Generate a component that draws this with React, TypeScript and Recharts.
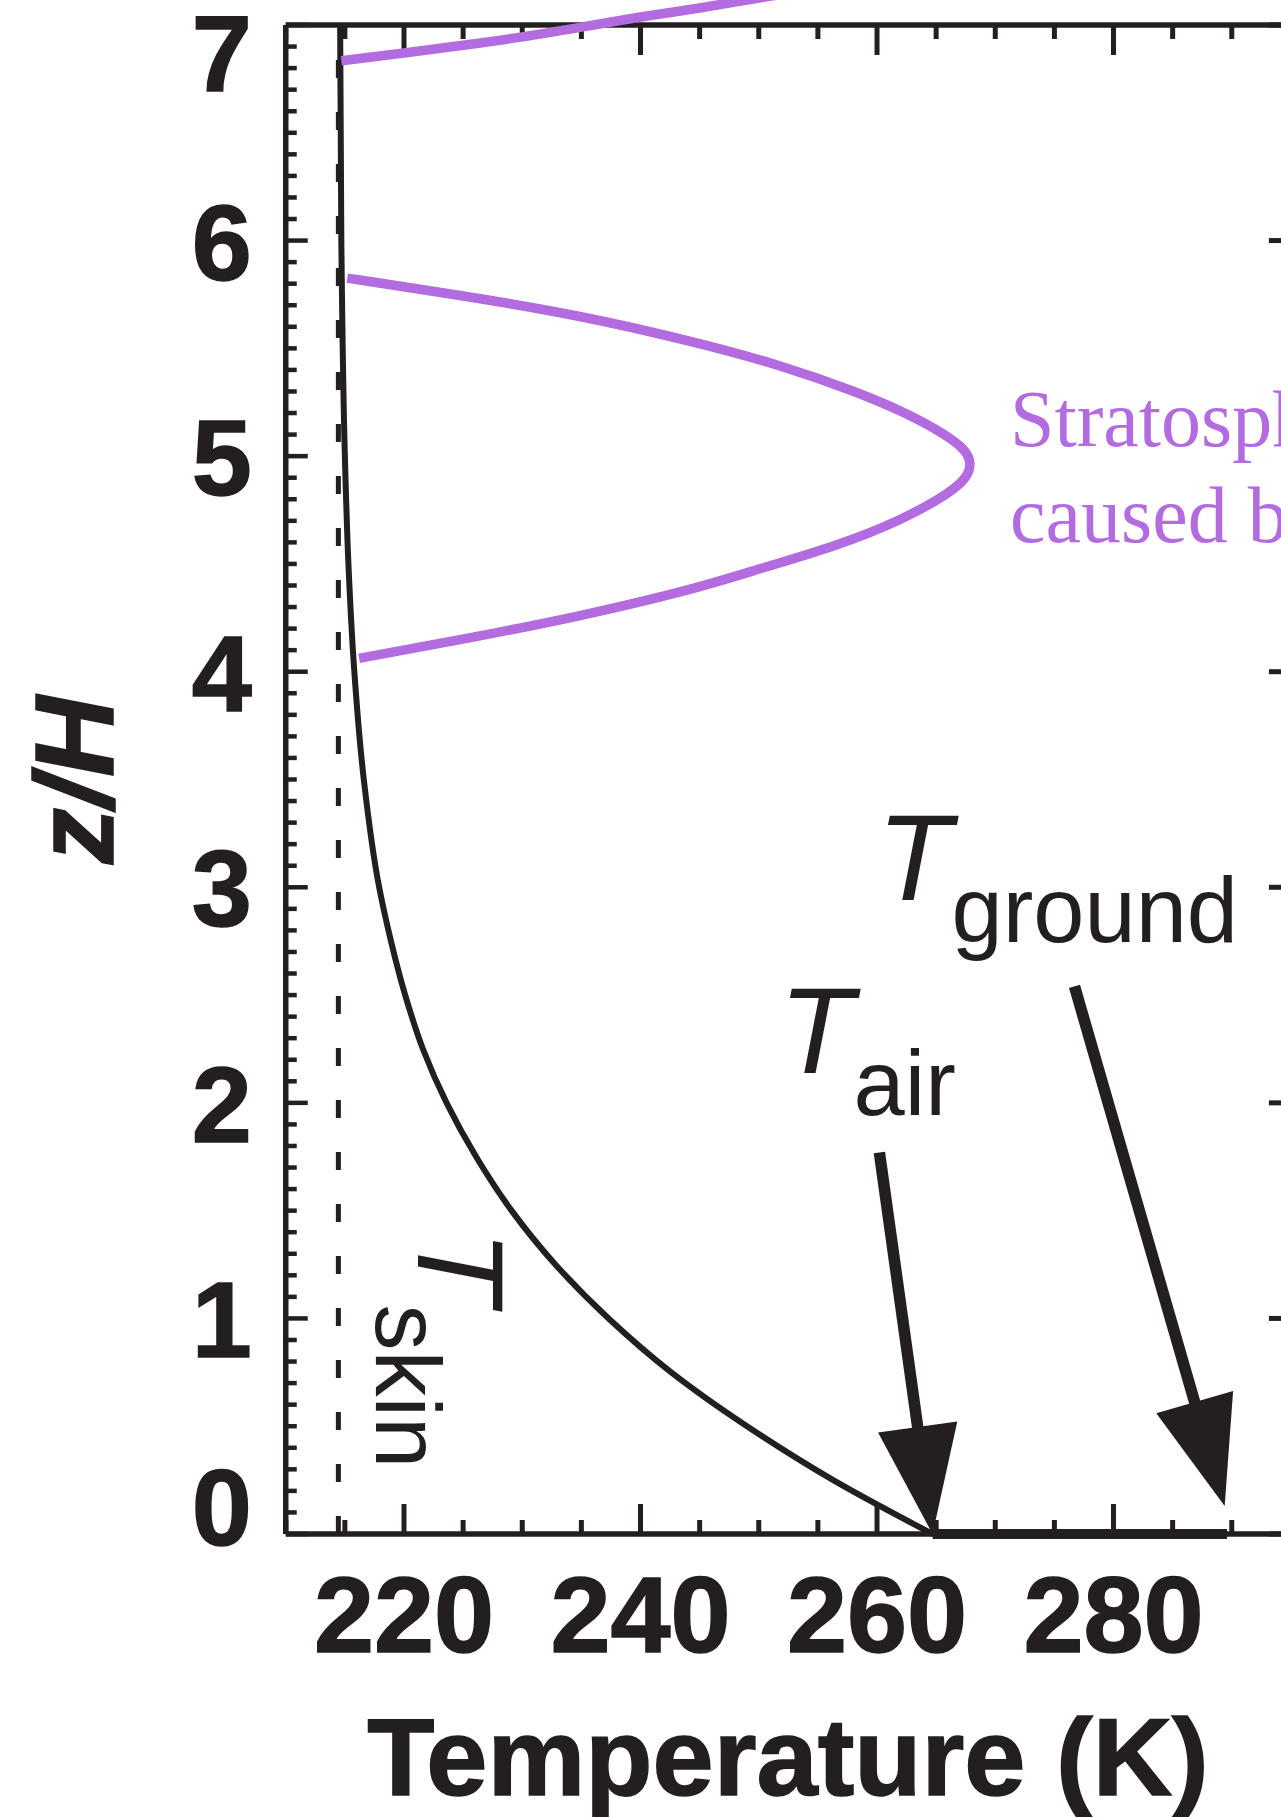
import React from 'react';
import { LineChart, Line, XAxis, YAxis, ReferenceLine } from 'recharts';

const INK = '#231f20';
const PURPLE = '#b36be0';
const SANS = '"Liberation Sans", Arial, Helvetica, sans-serif';
const SERIF = '"Liberation Serif", "Times New Roman", serif';

const W = 1400;
const H = 1817;
// plot area: x 285.75..1290.9, y 25..1534 (axes take 1px each)
const MARGIN = { top: 24, left: 284.75, right: W - 1290.9 - 1, bottom: H - 1534 - 1 };

// axes
const tempDomain: [number, number] = [210, 295];
const zDomain: [number, number] = [0, 7];
const tempLabels = [220, 240, 260, 280];
const zLabels = [0, 1, 2, 3, 4, 5, 6, 7];
const rightTicks = [0, 1, 2, 3, 4, 6, 7];
const tempTicks = Array.from({ length: 18 }, (_, i) => 210 + 5 * i);
const zTicks = Array.from({ length: 71 }, (_, i) => i / 10);

// radiative-equilibrium temperature profile (black), listed from the top down
const profileZ = [7.0, 6.0, 5.0, 4.5, 4.0, 3.5, 3.0, 2.75, 2.5, 2.25, 2.0, 1.75, 1.5, 1.25, 1.0, 0.75, 0.5, 0.25, 0];
const profileT = [214.6, 214.7, 215.0, 215.3, 215.8, 216.6, 217.9, 218.9, 220.1, 221.6, 223.6, 226.1, 229.1, 232.8, 237.3, 242.6, 249.0, 256.3, 264.7];

// skin temperature (dotted)
const skinZ = [0, 7];
const skinT = [214.45, 214.45];

// stratospheric heating bulge (purple), top to bottom
const bulgeZ = [5.826, 5.745, 5.653, 5.53, 5.42, 5.3, 5.2, 5.1, 5.03, 4.965, 4.9, 4.83, 4.7, 4.58, 4.48, 4.385, 4.257, 4.15, 4.062];
const bulgeT = [215.2, 225.0, 234.9, 244.6, 252.0, 258.2, 262.5, 265.8, 267.5, 268.0, 267.6, 266.2, 262.0, 256.4, 250.2, 244.7, 234.9, 225.0, 216.2];

// second bulge leaving the top of the frame
const upperT = [214.7, 220.0, 225.0, 230.0, 235.0, 240.0, 245.0, 249.0, 253.0];
const upperZ = [6.834, 6.87, 6.906, 6.945, 6.99, 7.037, 7.079, 7.116, 7.152];

// surface values
const tAir = 264.7;
const tGround = 289.6;
const airArrow = { fromT: 260.2, fromZ: 1.77, toT: 264.7, toZ: 0 };
const groundArrow = { fromT: 276.7, fromZ: 2.54, toT: 289.4, toZ: 0.13 };

const zip = (ts: number[], zs: number[]) => ts.map((T, i) => ({ T, z: zs[i] }));
const profileData = zip(profileT, profileZ);
const skinData = zip(skinT, skinZ);
const bulgeData = zip(bulgeT, bulgeZ);
const upperData = zip(upperT, upperZ);

const heavy = { fontFamily: SANS, fontWeight: 'bold' as const, fill: INK, stroke: INK, strokeWidth: 1.5 };

const BottomTick = (props: any) => {
  const { x, y, payload } = props;
  const v = payload.value;
  const major = tempLabels.includes(v);
  return (
    <g>
      <line x1={x} x2={x} y1={y} y2={y - (major ? 30 : 14)} stroke={INK} strokeWidth={5} />
      {major && (
        <text x={x} y={y + 118} textAnchor="middle" fontSize={108} {...heavy}>
          {v}
        </text>
      )}
    </g>
  );
};

const TopTick = (props: any) => {
  const { x, y, payload } = props;
  const major = tempLabels.includes(payload.value);
  return <line x1={x} x2={x} y1={y} y2={y + (major ? 30 : 14)} stroke={INK} strokeWidth={5} />;
};

const LeftTick = (props: any) => {
  const { x, y, payload } = props;
  const v = payload.value;
  const major = Math.abs(v - Math.round(v)) < 1e-6;
  const shift = v === 0 ? -28 : v === 7 ? 27 : 0;
  return (
    <g>
      <line x1={x} x2={x + (major ? 22 : 11)} y1={y} y2={y} stroke={INK} strokeWidth={4.5} />
      {major && zLabels.includes(Math.round(v)) && (
        <text x={x - 34} y={y + 39 + shift} textAnchor="end" fontSize={108} {...heavy}>
          {Math.round(v)}
        </text>
      )}
    </g>
  );
};

const RightTick = (props: any) => {
  const { x, y } = props;
  return <line x1={x} x2={x - 22} y1={y} y2={y} stroke={INK} strokeWidth={5} />;
};

const Arrow = (props: any) => {
  const { x1, y1, x2, y2 } = props;
  const dx = x2 - x1;
  const dy = y2 - y1;
  const len = Math.sqrt(dx * dx + dy * dy);
  const ux = dx / len;
  const uy = dy / len;
  const headLen = 108;
  const half = 40;
  const bx = x2 - ux * headLen;
  const by = y2 - uy * headLen;
  const pts = `${x2},${y2} ${bx - uy * half},${by + ux * half} ${bx + uy * half},${by - ux * half}`;
  return (
    <g>
      <line x1={x1} y1={y1} x2={bx + ux * 4} y2={by + uy * 4} stroke={INK} strokeWidth={11.5} />
      <polygon points={pts} fill={INK} />
    </g>
  );
};

const axisLine = { stroke: INK, strokeWidth: 5.5 };

export default function App() {
  return (
    <div style={{ position: 'absolute', left: 0, top: 0, width: 1281, height: 1817, overflow: 'hidden', background: '#fff' }}>
      <div style={{ position: 'absolute', left: 0, top: 0 }}>
        <LineChart width={W} height={H} margin={MARGIN}>
          <XAxis xAxisId="b" type="number" dataKey="T" domain={tempDomain} ticks={tempTicks} interval={0}
            height={1} tickSize={0} tickMargin={0} tickLine={false} axisLine={axisLine} tick={BottomTick} />
          <XAxis xAxisId="t" orientation="top" type="number" dataKey="T" domain={tempDomain} ticks={tempTicks} interval={0}
            height={1} tickSize={0} tickMargin={0} tickLine={false} axisLine={axisLine} tick={TopTick} allowDataOverflow />
          <YAxis yAxisId="l" type="number" dataKey="z" domain={zDomain} ticks={zTicks} interval={0}
            width={1} tickSize={0} tickMargin={0} tickLine={false} axisLine={axisLine} tick={LeftTick} />
          <YAxis yAxisId="r" orientation="right" type="number" domain={zDomain} ticks={rightTicks} interval={0}
            width={1} tickSize={0} tickMargin={0} tickLine={false} axisLine={axisLine} tick={RightTick} allowDataOverflow />

          <Line xAxisId="b" yAxisId="l" data={skinData} dataKey="z" stroke={INK} strokeWidth={5}
            strokeDasharray="18 34" dot={false} activeDot={false} isAnimationActive={false} />
          <Line xAxisId="b" yAxisId="l" data={profileData} dataKey="z" type="monotoneY" stroke={INK} strokeWidth={6}
            dot={false} activeDot={false} isAnimationActive={false} />
          <Line xAxisId="b" yAxisId="l" data={bulgeData} dataKey="z" type="basis" stroke={PURPLE} strokeWidth={9.5}
            dot={false} activeDot={false} isAnimationActive={false} />

          <ReferenceLine xAxisId="b" yAxisId="l" segment={[{ x: tAir, y: 0 }, { x: tGround, y: 0 }]}
            stroke={INK} strokeWidth={10} ifOverflow="visible" />
          <ReferenceLine xAxisId="b" yAxisId="l"
            segment={[{ x: airArrow.fromT, y: airArrow.fromZ }, { x: airArrow.toT, y: airArrow.toZ }]}
            ifOverflow="visible" shape={Arrow} />
          <ReferenceLine xAxisId="b" yAxisId="l"
            segment={[{ x: groundArrow.fromT, y: groundArrow.fromZ }, { x: groundArrow.toT, y: groundArrow.toZ }]}
            ifOverflow="visible" shape={Arrow} />
        </LineChart>
      </div>

      {/* same scales, plot area stretched to the page top so the upper curve can leave the frame */}
      <div style={{ position: 'absolute', left: 0, top: 0, pointerEvents: 'none' }}>
        <LineChart width={W} height={H} margin={{ top: 0, left: 285.75, right: W - 1290.9, bottom: H - 1534 }}>
          <XAxis xAxisId="b" type="number" dataKey="T" domain={tempDomain} hide allowDataOverflow />
          <YAxis yAxisId="l" type="number" dataKey="z" domain={[0, 1534 / ((1534 - 25) / 7)]} hide allowDataOverflow />
          <Line xAxisId="b" yAxisId="l" data={upperData} dataKey="z" type="monotoneX" stroke={PURPLE} strokeWidth={9.5}
            dot={false} activeDot={false} isAnimationActive={false} />
        </LineChart>
      </div>

      <svg width={1281} height={1817} style={{ position: 'absolute', left: 0, top: 0, pointerEvents: 'none' }}>
        <text transform="translate(113, 780) rotate(-90)" textAnchor="middle" fontStyle="italic" fontSize={112} {...heavy}>
          z/H
        </text>
        <text x={788} y={1795} textAnchor="middle" fontSize={110} {...heavy}>
          Temperature (K)
        </text>

        <text x={877} y={900} fontFamily={SANS} fill={INK}>
          <tspan fontStyle="italic" fontSize={122}>T</tspan>
          <tspan fontSize={92} dy={42}>ground</tspan>
        </text>
        <text x={779} y={1073} fontFamily={SANS} fill={INK}>
          <tspan fontStyle="italic" fontSize={122}>T</tspan>
          <tspan fontSize={92} dy={42}>air</tspan>
        </text>
        <text transform="translate(418, 1230) rotate(90)" fontFamily={SANS} fill={INK}>
          <tspan fontStyle="italic" fontSize={122}>T</tspan>
          <tspan fontSize={92} dy={42}>skin</tspan>
        </text>

        <text x={1010} y={446} fontFamily={SERIF} fontSize={80} fill={PURPLE}>Stratospheric heating</text>
        <text x={1010} y={542} fontFamily={SERIF} fontSize={80} fill={PURPLE}>caused by ozone</text>
      </svg>
    </div>
  );
}
